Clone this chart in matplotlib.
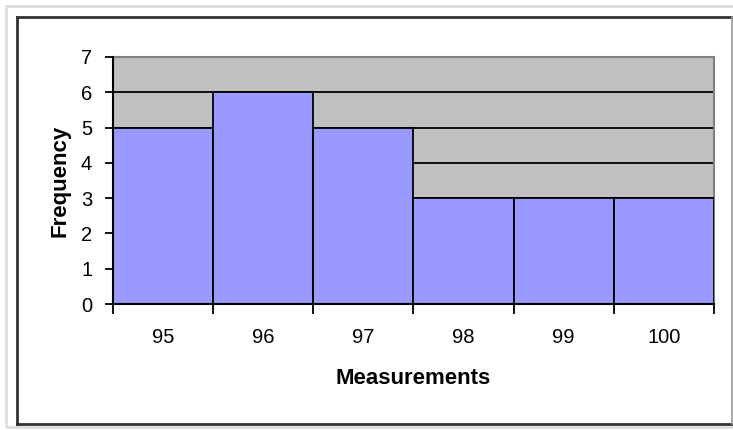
import matplotlib.pyplot as plt
from matplotlib.patches import Rectangle
from matplotlib.lines import Line2D

plt.rcParams['font.family'] = ['Liberation Sans', 'DejaVu Sans']

measurements = [95, 96, 97, 98, 99, 100]
frequency = [5, 6, 5, 3, 3, 3]
y_ticks = [0, 1, 2, 3, 4, 5, 6, 7]

W, H = 733, 430
fig = plt.figure(figsize=(W / 100, H / 100), dpi=100)

# outer frames (pixel coords -> figure coords)
def fx(px):
    return px / W

def fy(py):
    return 1 - py / H

fig.patches.append(Rectangle((fx(6), fy(427)), fx(740) - fx(6), fy(6) - fy(427), transform=fig.transFigure,
                             fill=False, edgecolor='#dddddd', linewidth=2))
for xs, ys, col in [([17, 732], [17, 17], '#333333'), ([17, 17], [17, 424], '#333333'),
                    ([17, 732], [424, 424], '#333333'), ([732, 732], [17, 424], '#999999')]:
    fig.lines.append(Line2D([fx(x) for x in xs], [fy(y) for y in ys], transform=fig.transFigure,
                            color=col, linewidth=2 if col == '#333333' else 1.2))

ax = fig.add_axes([fx(113), fy(304), fx(714) - fx(113), fy(57) - fy(304)])
ax.set_facecolor('#c0c0c0')

ax.bar(measurements, frequency, width=1.0, color='#9999ff', edgecolor='black', linewidth=1.3, zorder=3)

ax.set_xlim(94.5, 100.5)
ax.set_ylim(0, 7)
ax.set_yticks(y_ticks)
ax.yaxis.grid(True, color='black', linewidth=1.3, zorder=1)
ax.set_axisbelow(True)

edges = [m - 0.5 for m in measurements] + [measurements[-1] + 0.5]
ax.set_xticks(edges)
ax.set_xticklabels([])
ax.set_xticks(measurements, minor=True)
ax.set_xticklabels([str(m) for m in measurements], minor=True)
ax.tick_params(axis='x', which='major', length=7, width=1.3, direction='out')
ax.tick_params(axis='x', which='minor', length=0, pad=17, labelsize=14.5)
ax.tick_params(axis='y', length=6, width=1.3, direction='out', labelsize=14.5, pad=9)

for side in ['top', 'right']:
    ax.spines[side].set_color('#808080')
    ax.spines[side].set_linewidth(1.5)
for side in ['left', 'bottom']:
    ax.spines[side].set_color('black')
    ax.spines[side].set_linewidth(1.5)
    ax.spines[side].set_zorder(4)

ax.set_xlabel('Measurements', fontsize=16, fontweight='bold', va='center')
ax.set_ylabel('Frequency', fontsize=16, fontweight='bold', va='center')
ax.xaxis.set_label_coords(0.5, (304 - 378) / 247)
ax.yaxis.set_label_coords((60 - 113) / 601, 0.5)

fig.savefig('out.png', dpi=100)
